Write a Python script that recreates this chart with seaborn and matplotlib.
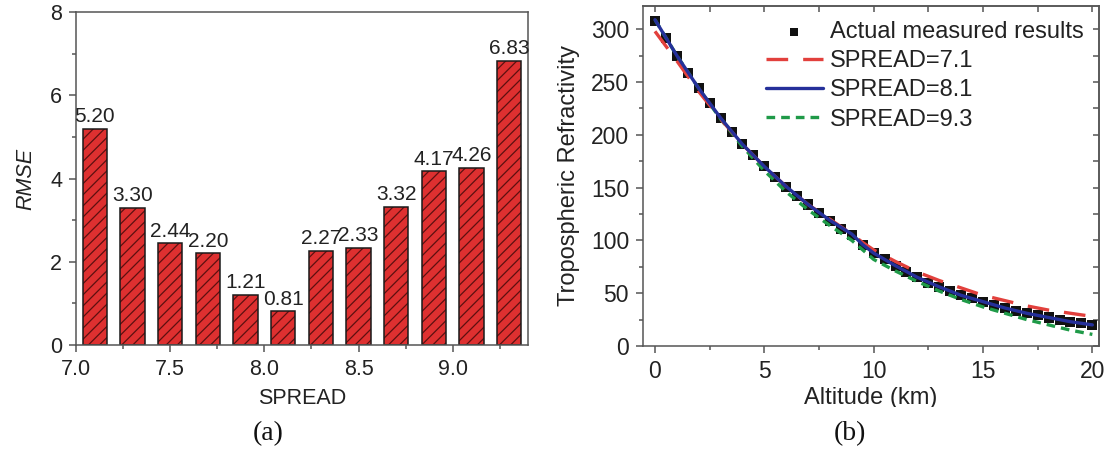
import numpy as np
import pandas as pd
import matplotlib
matplotlib.use("Agg")
import matplotlib.pyplot as plt
import seaborn as sns
from matplotlib.ticker import MultipleLocator
from matplotlib.transforms import Bbox, TransformedBbox

# (a) RMSE against SPREAD
spread = [7.1, 7.3, 7.5, 7.7, 7.9, 8.1, 8.3, 8.5, 8.7, 8.9, 9.1, 9.3]
rmse = [5.20, 3.30, 2.44, 2.20, 1.21, 0.81, 2.27, 2.33, 3.32, 4.17, 4.26, 6.83]

# (b) refractivity profiles
alt_meas = [0, 0.5, 1, 1.5, 2, 2.5, 3, 3.5, 4, 4.5, 5, 5.5, 6, 6.5, 7, 7.5, 8, 8.5,
            9, 9.5, 10, 10.5, 11, 11.5, 12, 12.5, 13, 13.5, 14, 14.5, 15, 15.5,
            16, 16.5, 17, 17.5, 18, 18.5, 19, 19.5, 20]
measured = [308, 292, 275, 259, 244, 230, 216, 203, 191, 181, 170, 160, 151, 142,
            134, 126, 118, 111, 105, 96, 88, 82, 76, 70, 65, 60, 56, 52, 48, 45,
            42, 39, 36, 33, 31, 29, 27, 25, 23, 22, 20]
alt_fit = [0, 1, 2, 3, 4, 5, 6, 7, 8, 9, 9.5, 10, 11, 12, 13, 14, 15, 16, 17, 18, 19, 20]
spread_71 = [298, 270, 241, 215, 191, 170, 151, 134, 120, 106, 98, 91, 80, 70, 62,
             55, 48, 43, 38, 34, 31, 28]
spread_81 = [309, 275, 244, 216, 191, 170, 151, 134, 119, 106, 96, 88, 76, 65, 56,
             48, 42, 36, 31, 27, 23, 20]
spread_93 = [309, 275, 244, 215, 189, 166, 146, 129, 114, 100, 91, 82, 71, 61, 52,
             44, 37, 31, 25, 20, 15, 11]

sns.set_style("ticks")
plt.rcParams["font.family"] = ["Liberation Sans", "DejaVu Sans"]
plt.rcParams["hatch.linewidth"] = 0.9
txt = "#222222"
spine = "#555555"
plt.rcParams["text.color"] = txt
plt.rcParams["axes.labelcolor"] = txt
plt.rcParams["xtick.color"] = spine
plt.rcParams["ytick.color"] = spine
plt.rcParams["xtick.labelcolor"] = txt
plt.rcParams["ytick.labelcolor"] = txt

fig = plt.figure(figsize=(11.07, 4.5), dpi=100)
ax1 = fig.add_axes([0.0687, 0.2333, 0.4083, 0.7400])
ax2 = fig.add_axes([0.5808, 0.2311, 0.4119, 0.7556])

bars = pd.DataFrame({"SPREAD": spread, "RMSE": rmse})
sns.barplot(data=bars, x="SPREAD", y="RMSE", native_scale=True, width=0.64,
            color="#de3030", saturation=1, edgecolor="#5c1010", linewidth=0,
            hatch="///", ax=ax1)
sns.barplot(data=bars, x="SPREAD", y="RMSE", native_scale=True, width=0.64,
            fill=False, color="#1a1a1a", linewidth=1.1, ax=ax1)
ax1.bar_label(ax1.containers[0], fmt="%.2f", padding=2, fontsize=15, color=txt)

ax1.set_xlim(7.0, 9.4)
ax1.set_ylim(0, 8)
ax1.xaxis.set_major_locator(MultipleLocator(0.5))
ax1.xaxis.set_minor_locator(MultipleLocator(0.25))
ax1.yaxis.set_major_locator(MultipleLocator(2))
ax1.yaxis.set_minor_locator(MultipleLocator(1))
ax1.xaxis.set_major_formatter(plt.FormatStrFormatter("%.1f"))
ax1.tick_params(which="both", direction="out", labelsize=15.5, width=1.1)
ax1.tick_params(which="major", length=5, pad=5)
ax1.tick_params(which="minor", length=3)
ax1.set_xlabel("SPREAD", fontsize=15.5, labelpad=6)
ax1.set_ylabel("RMSE", fontsize=15.5, style="italic", labelpad=10)

# (b)
sns.scatterplot(x=alt_meas, y=measured, marker="s", s=52, color="#111111",
                edgecolor="none", label="Actual measured results", zorder=2, ax=ax2)
sns.lineplot(x=alt_fit, y=spread_93, color="#1f9a48", lw=2.4,
             linestyle=(0, (2.6, 1.8)), label="SPREAD=9.3", zorder=3, ax=ax2)
sns.lineplot(x=alt_fit, y=spread_71, color="#e2403c", lw=2.4,
             linestyle=(0, (6.5, 4.5)), label="SPREAD=7.1", zorder=3, ax=ax2)
sns.lineplot(x=alt_fit, y=spread_81, color="#25309a", lw=2.4,
             label="SPREAD=8.1", zorder=4, ax=ax2)

ax2.set_xlim(-0.55, 20.3)
ax2.set_ylim(0, 322)
ax2.xaxis.set_major_locator(MultipleLocator(5))
ax2.xaxis.set_minor_locator(MultipleLocator(2.5))
ax2.yaxis.set_major_locator(MultipleLocator(50))
ax2.yaxis.set_minor_locator(MultipleLocator(25))
ax2.tick_params(which="both", direction="out", labelsize=16.5, width=1.1)
ax2.tick_params(which="major", length=5, pad=5)
ax2.tick_params(which="minor", length=3)

top = ax2.secondary_xaxis("top")
top.xaxis.set_major_locator(MultipleLocator(2.5))
top.tick_params(direction="in", length=4, width=1.1, labeltop=False)
right = ax2.secondary_yaxis("right")
right.yaxis.set_major_locator(MultipleLocator(25))
right.tick_params(direction="in", length=4, width=1.1, labelright=False)
for sec in (top, right):
    for sp in sec.spines.values():
        sp.set_color(spine)
        sp.set_linewidth(1.1)

ax2.set_xlabel("Altitude (km)", fontsize=17, labelpad=3)
ax2.set_ylabel("Tropospheric Refractivity", fontsize=17, labelpad=8)
# the original label is cut off along its lower edge
clip = TransformedBbox(Bbox([[0, 1 - 407 / 450], [1, 1]]), fig.transFigure)
ax2.xaxis.label.set_clip_box(clip)
ax2.xaxis.label.set_clip_on(True)

handles, labels = ax2.get_legend_handles_labels()
order = ["Actual measured results", "SPREAD=7.1", "SPREAD=8.1", "SPREAD=9.3"]
hmap = dict(zip(labels, handles))
ax2.legend([hmap[k] for k in order], order, loc="upper right", frameon=False,
           fontsize=17, handlelength=2.4, handletextpad=0.3, labelspacing=0.3,
           borderaxespad=0.45, borderpad=0.2, markerscale=0.8)

for ax in (ax1, ax2):
    for sp in ax.spines.values():
        sp.set_visible(True)
        sp.set_color(spine)
        sp.set_linewidth(1.1)

fig.text(268 / 1107, 1 - 434 / 450, "(a)", ha="center", va="center",
         fontsize=20, family=["Liberation Serif", "DejaVu Serif"], color="#111111")
fig.text(850 / 1107, 1 - 434 / 450, "(b)", ha="center", va="center",
         fontsize=20, family=["Liberation Serif", "DejaVu Serif"], color="#111111")

fig.savefig("out.png", dpi=100)
